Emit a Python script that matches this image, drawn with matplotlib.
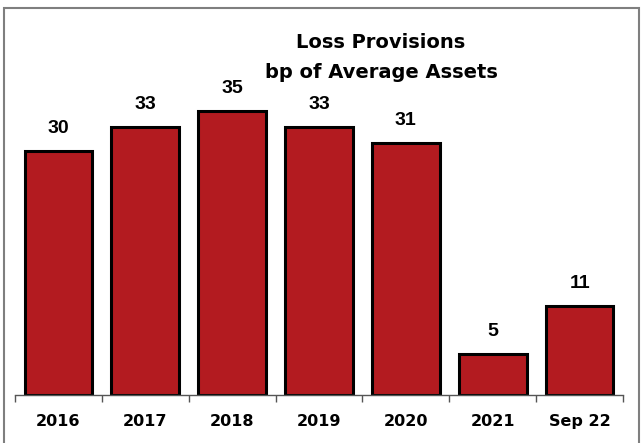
import matplotlib
matplotlib.use("Agg")
import matplotlib.pyplot as plt
from matplotlib.patches import Rectangle
import numpy as np

# Loss provisions, basis points of average assets
periods = ["2016", "2017", "2018", "2019", "2020", "2021", "Sep 22"]
provisions_bp = [30, 33, 35, 33, 31, 5, 11]

plt.rcParams['font.family'] = ['DejaVu Sans']

fig = plt.figure(figsize=(6.42, 4.43), dpi=100)
ax = fig.add_axes([15 / 642, 48 / 443, 608 / 642, 325 / 443])

x = np.arange(len(periods))
bars = ax.bar(x, provisions_bp, width=0.78, color="#B31B20",
              edgecolor="black", linewidth=2.2)

for xi, v in zip(x, provisions_bp):
    ax.annotate(str(v), (xi, v), xytext=(0, 10), textcoords="offset points",
                ha="center", va="bottom", fontsize=14, fontweight="bold",
                family="Liberation Sans")

ax.set_xlim(-0.5, len(periods) - 0.5)
ax.set_ylim(0, 40)

# category labels, with tick marks on the category boundaries
ax.set_xticks(x)
ax.set_xticklabels(periods, fontsize=11.5, fontweight="bold")
ax.tick_params(axis="x", which="major", length=0, pad=14)
ax.set_xticks(np.arange(len(periods) + 1) - 0.5, minor=True)
ax.tick_params(axis="x", which="minor", length=5, width=1, color="#555555")
ax.set_yticks([])

for side in ["left", "right", "top"]:
    ax.spines[side].set_visible(False)
ax.spines["bottom"].set_color("#555555")
ax.spines["bottom"].set_linewidth(1)

fig.text(381 / 642, 1 - 42 / 443, "Loss Provisions", ha="center", va="center",
         fontsize=14, fontweight="bold")
fig.text(381 / 642, 1 - 72 / 443, "bp of Average Assets", ha="center", va="center",
         fontsize=14, fontweight="bold")

# outer frame, open at the bottom edge
frame = Rectangle((4 / 642, -0.05), 635 / 642, 1.05 - 8 / 443,
                  transform=fig.transFigure, fill=False,
                  edgecolor="#7f7f7f", linewidth=1.5, clip_on=False)
fig.patches.append(frame)

fig.savefig("out.png", dpi=100)
